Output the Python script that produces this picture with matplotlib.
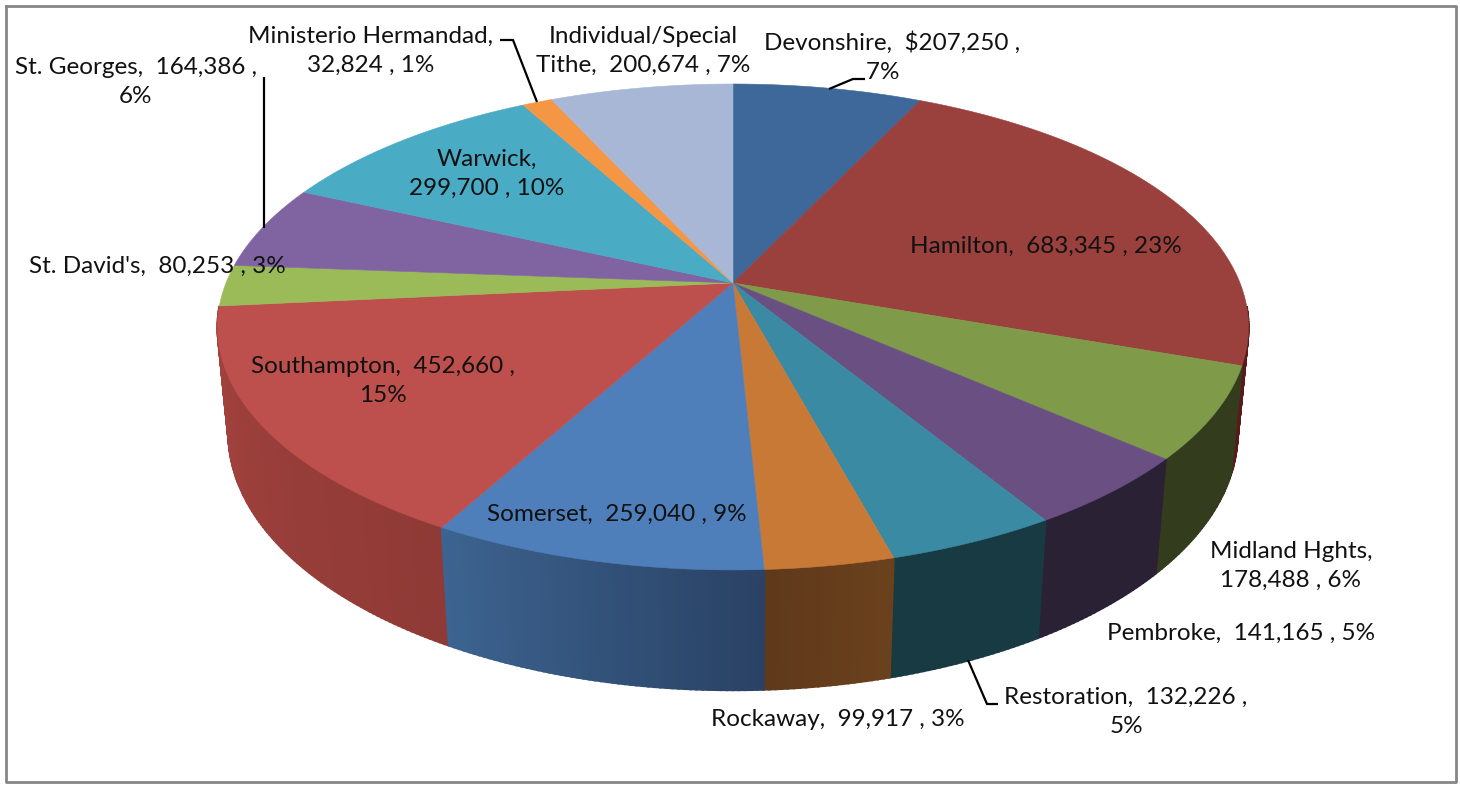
import numpy as np
import matplotlib
matplotlib.use('Agg')
import matplotlib.pyplot as plt

plt.rcParams['font.family'] = ['Lato', 'DejaVu Sans']

names = ['Devonshire', 'Hamilton', 'Midland Hghts', 'Pembroke', 'Restoration', 'Rockaway', 'Somerset',
         'Southampton', "St. David's", 'St. Georges', 'Warwick', 'Ministerio Hermandad', 'Individual/Special Tithe']
values = [207250, 683345, 178488, 141165, 132226, 99917, 259040, 452660, 80253, 164386, 299700, 32824, 200674]

top_colors = ['#3e6899', '#9a403d', '#7f9a48', '#6a4f82', '#3a8aa3', '#c87935', '#4f7fbb',
              '#bd504d', '#9bbb59', '#8064a2', '#4aabc5', '#f59644', '#a8b7d5']
side_start = ['#2a4265', '#5a1a1a', '#333d1e', '#2b2135', '#183a42', '#6b411d', '#2a4265',
              '#8f3a36', '#a5433f', '#5a4672', '#2f7a8e', '#a8642c', '#76809a']
side_end = ['#2a4265', '#5a1a1a', '#333d1e', '#2b2135', '#183a42', '#5e391a', '#3d6491',
            '#a5433f', '#a5433f', '#5a4672', '#2f7a8e', '#a8642c', '#76809a']

labels = ['Devonshire,  $207,250 ,\n7%   ',
          'Hamilton,  683,345 , 23%',
          'Midland Hghts,\n178,488 , 6%',
          'Pembroke,  141,165 , 5%',
          'Restoration,  132,226 ,\n5%',
          'Rockaway,  99,917 , 3%',
          'Somerset,  259,040 , 9%',
          'Southampton,  452,660 ,\n15%',
          "St. David's,  80,253 , 3%",
          'St. Georges,  164,386 ,\n6%',
          'Warwick,\n299,700 , 10%',
          'Ministerio Hermandad,\n32,824 , 1%',
          'Individual/Special\nTithe,  200,674 , 7%']
label_x = [892, 1046, 1291, 1241, 1126, 838, 617, 383, 157, 136, 487, 371, 643]
label_y = [57, 246, 566, 633, 712, 719, 514, 381, 266, 82, 174, 51, 51]

# leader lines, in picture pixels
leaders = [([829, 853, 865], [89, 79, 79]),
           ([500, 513, 537], [40, 40, 102]),
           ([264, 264], [77, 228]),
           ([968, 987, 998], [660, 704, 704])]

# perspective of the pie
cx, cy = 733, 283
a, b, p = 507, 235, 0.181
q, c = 0.021, 107


def project(theta, z):
    # z = 0 is the top face, z = 1 is the bottom face
    X = np.sin(theta)
    Y = np.cos(theta)
    w = 1 + p * Y + q * z
    return cx + a * X / w, cy - (b * Y - c * z) / w


def mix(col1, col2, t):
    c1 = np.array(matplotlib.colors.to_rgb(col1))
    c2 = np.array(matplotlib.colors.to_rgb(col2))
    return tuple(c1 + (c2 - c1) * t)


fig = plt.figure(figsize=(14.6, 7.9), dpi=100)
ax = fig.add_axes([0, 0, 1, 1])
ax.set_xlim(0, 1460)
ax.set_ylim(790, 0)
ax.axis('off')

# chart frame
ax.plot([6, 1456, 1456, 6, 6], [6, 6, 782, 782, 6], color='#868686', lw=2, zorder=1)

edges = np.concatenate([[0], np.cumsum(values)]) / sum(values) * 2 * np.pi

# side wall, cut into thin strips so the shade can change along a slice
strips = []
for i in range(len(values)):
    n = max(int((edges[i + 1] - edges[i]) / 0.01), 2)
    angles = np.linspace(edges[i], edges[i + 1], n + 1)
    for j in range(n):
        strips.append((angles[j], angles[j + 1], mix(side_start[i], side_end[i], j / n)))
strips.sort(key=lambda s: -np.cos(s[0]))
for t0, t1, col in strips:
    # the back of the wall is hidden behind the top face
    if np.cos(t0) > -0.1 and np.cos(t1) > -0.1:
        continue
    tt = np.array([t0, t1])
    x_top, y_top = project(tt, 0)
    x_bot, y_bot = project(tt[::-1], 1)
    ax.fill(np.r_[x_top, x_bot], np.r_[y_top, y_bot], color=col, lw=1.5, zorder=2)

# top face
for i in range(len(values)):
    tt = np.linspace(edges[i], edges[i + 1], 150)
    x, y = project(tt, 0)
    ax.fill(np.r_[cx, x], np.r_[cy, y], color=top_colors[i], lw=0.4, zorder=3)

for lx, ly in leaders:
    ax.plot(lx, ly, color='black', lw=1.6, zorder=4, solid_capstyle='butt')

for i in range(len(labels)):
    ax.text(label_x[i], label_y[i], labels[i], ha='center', va='center', ma='center',
            fontsize=17.5, color='#111111', linespacing=1.5, zorder=5)

fig.savefig('out.png', dpi=100)
